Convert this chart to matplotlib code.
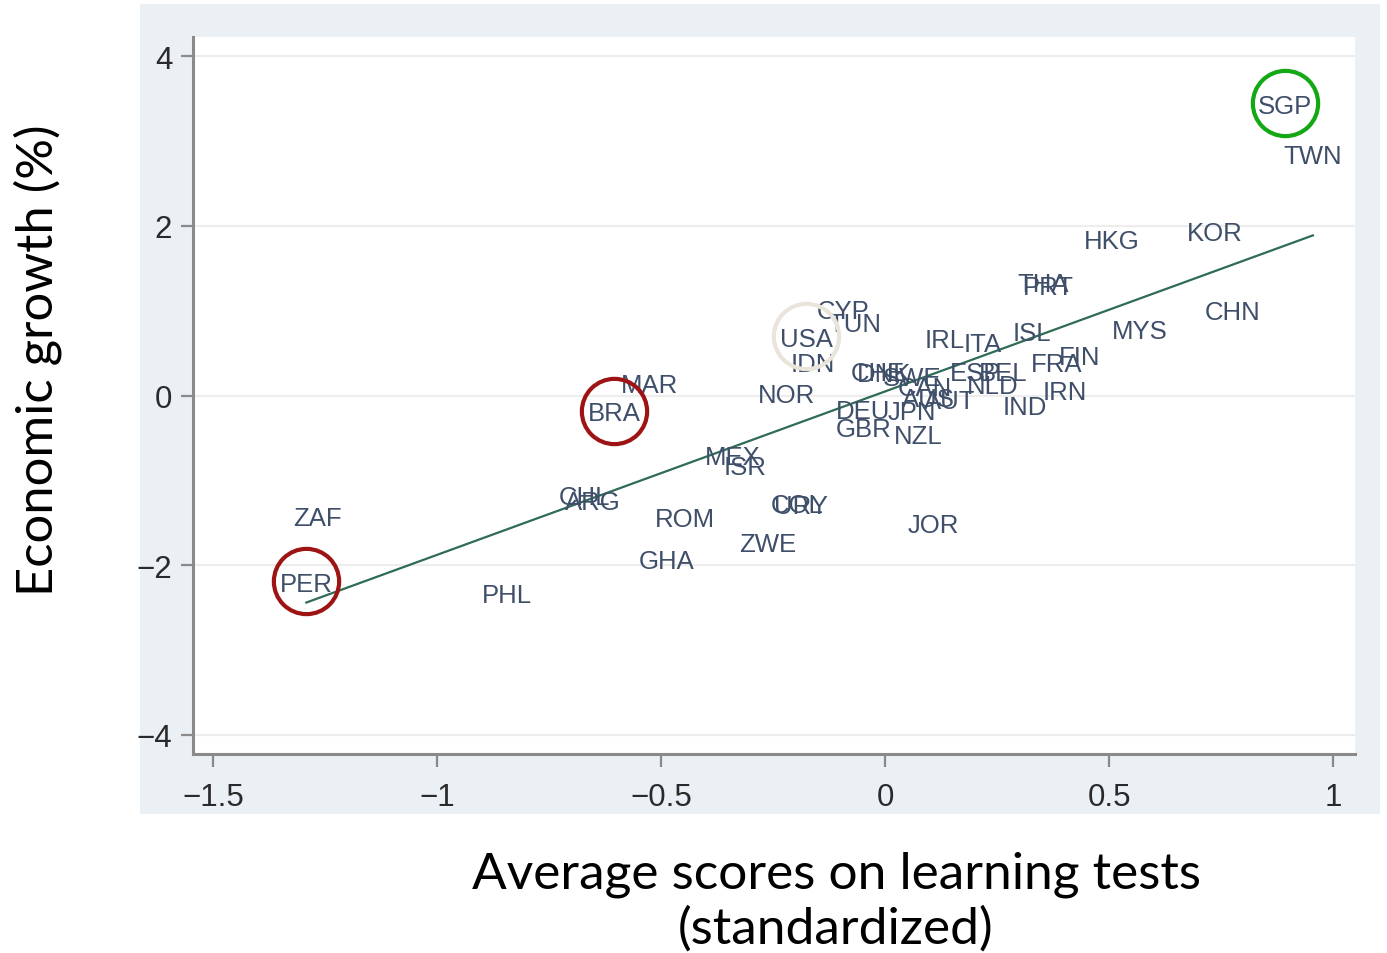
import matplotlib
matplotlib.use("Agg")
import matplotlib.pyplot as plt
import numpy as np

# ---- data ----
countries = ["SGP", "TWN", "HKG", "KOR", "CHN", "MYS", "FIN", "FRA", "IRN", "IND",
             "ISL", "THA", "PRT", "IRL", "ITA", "ESP", "BEL", "NLD", "CHE", "DNK",
             "SWE", "CAN", "AUS", "AUT", "DEU", "JPN", "GBR", "NZL", "USA", "IDN",
             "CYP", "TUN", "NOR", "MAR", "BRA", "ZAF", "PER", "PHL", "ROM", "GHA",
             "ZWE", "JOR", "MEX", "ISR", "CHL", "ARG", "COL", "URY"]
test_scores = [0.893, 0.955, 0.507, 0.737, 0.775, 0.569, 0.435, 0.384, 0.402, 0.313,
               0.328, 0.353, 0.364, 0.134, 0.217, 0.201, 0.263, 0.241, -0.016, -0.002,
               0.060, 0.089, 0.096, 0.145, -0.049, 0.060, -0.049, 0.074, -0.176, -0.161,
               -0.094, -0.067, -0.219, -0.525, -0.605, -1.268, -1.292, -0.844, -0.446, -0.487,
               -0.261, 0.107, -0.339, -0.313, -0.672, -0.652, -0.196, -0.188]
growth = [3.42, 2.83, 1.82, 1.92, 0.98, 0.76, 0.46, 0.37, 0.04, -0.13,
          0.74, 1.32, 1.28, 0.65, 0.61, 0.27, 0.27, 0.11, 0.26, 0.25,
          0.21, 0.09, -0.04, -0.07, -0.18, -0.19, -0.39, -0.48, 0.67, 0.37,
          1.00, 0.84, 0.01, 0.12, -0.21, -1.45, -2.22, -2.35, -1.46, -1.95,
          -1.75, -1.53, -0.73, -0.84, -1.20, -1.26, -1.29, -1.30]

# fitted regression line
fit_slope = 1.928
fit_intercept = 0.048

highlight_countries = ["SGP", "BRA", "PER", "USA"]
highlight_colors = ["#14a814", "#9e1414", "#9e1414", "#e9e5da"]

x_ticks = [-1.5, -1, -0.5, 0, 0.5, 1]
x_tick_labels = ["\u22121.5", "\u22121", "\u22120.5", "0", "0.5", "1"]
y_ticks = [-4, -2, 0, 2, 4]
y_tick_labels = ["\u22124", "\u22122", "0", "2", "4"]

x_title = "Average scores on learning tests\n(standardized)"
y_title = "Economic growth (%)"

# ---- figure ----
W, H = 1387, 954
fig = plt.figure(figsize=(W / 100, H / 100), dpi=100)
fig.patch.set_facecolor("white")

# Stata-like graph region background (an axes underneath the plot axes)
bg = fig.add_axes([140 / W, (H - 815) / H, (1380 - 140) / W, (815 - 5) / H], zorder=0)
bg.set_facecolor("#ebf0f5")
bg.set_xticks([])
bg.set_yticks([])
for s in bg.spines.values():
    s.set_visible(False)

ax = fig.add_axes([193 / W, (H - 755) / H, (1355 - 193) / W, (755 - 38) / H], zorder=1)
ax.set_facecolor("white")
ax.set_xlim(-1.545, 1.049)
ax.set_ylim(-4.23, 4.23)

ax.set_yticks(y_ticks)
ax.set_yticklabels(y_tick_labels)
ax.set_xticks(x_ticks)
ax.set_xticklabels(x_tick_labels)
ax.grid(axis="y", color="#ededed", lw=1.6)
ax.set_axisbelow(True)

for s in ["top", "right"]:
    ax.spines[s].set_visible(False)
for s in ["left", "bottom"]:
    ax.spines[s].set_color("#8a8a8a")
    ax.spines[s].set_linewidth(2.2)
ax.tick_params(axis="both", color="#8a8a8a", width=1.6, length=9,
               labelsize=22.5, labelcolor="#2a2a2a")
ax.tick_params(axis="x", pad=11)
ax.tick_params(axis="y", pad=6)
for lab in ax.get_xticklabels() + ax.get_yticklabels():
    lab.set_family("Liberation Sans")

# fitted line over the data range
xs = np.array(test_scores)
xl = np.array([xs.min(), xs.max()])
ax.plot(xl, fit_intercept + fit_slope * xl, color="#2f6b55", lw=1.6, zorder=3)

# country labels centred on their points
for c, x, y in zip(countries, test_scores, growth):
    ax.text(x, y, c, ha="center", va="center", fontsize=18.5,
            family="Liberation Sans", color="#3f4f6a", zorder=4)

# highlight circles
for c, col in zip(highlight_countries, highlight_colors):
    i = countries.index(c)
    ax.plot(test_scores[i], growth[i] + 0.03, marker="o", markersize=47,
            markerfacecolor="none", markeredgecolor=col, markeredgewidth=3,
            zorder=5, clip_on=False)

# axis titles
fig.text(836 / W, 1 - 902 / H, x_title, ha="center", va="center",
         fontsize=37, family="Lato", color="black", linespacing=1.2)
fig.text(38 / W, 1 - 360 / H, y_title, ha="center", va="center",
         fontsize=36.5, family="Lato", color="black", rotation=90)

fig.savefig("out.png", dpi=100)
